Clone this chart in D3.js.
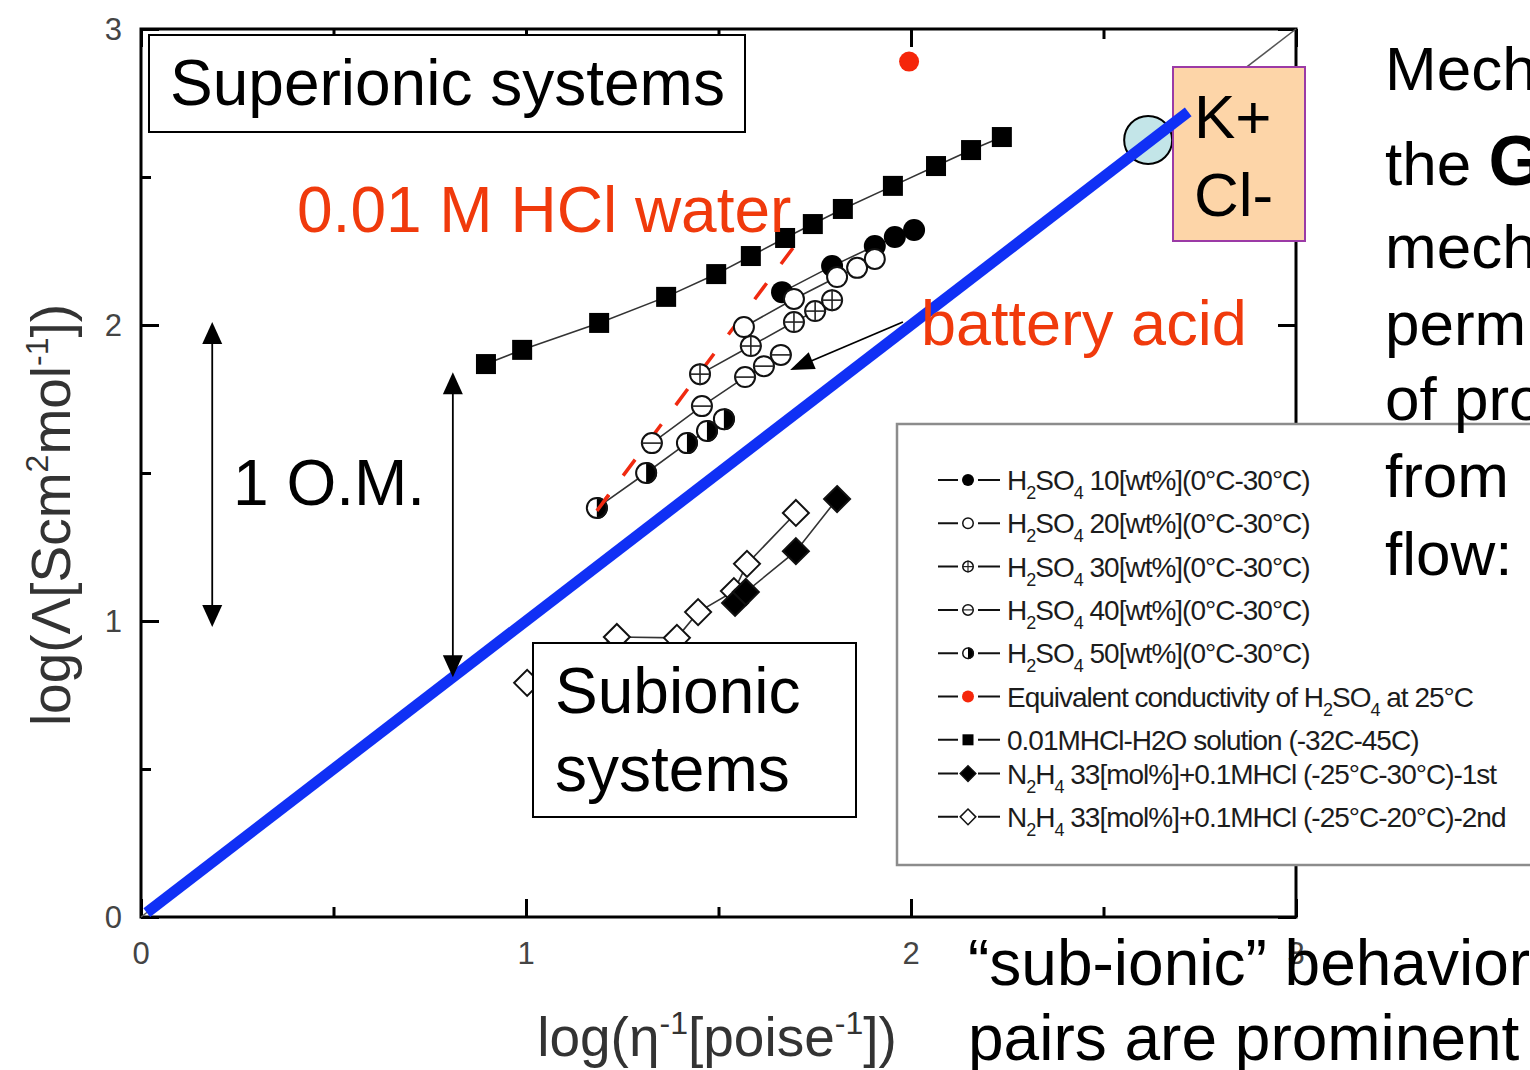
<!DOCTYPE html>
<html>
<head>
<meta charset="utf-8">
<script src="https://cdn.jsdelivr.net/npm/d3@7"></script>
<style>
  html, body { margin: 0; padding: 0; background: #fff; overflow: hidden; }
  svg { display: block; }
  text { font-family: "Liberation Sans", Arial, sans-serif; }
</style>
</head>
<body>
<svg id="chart" width="1530" height="1070"></svg>
<script>
// ---- data: log(1/viscosity) vs log(equivalent conductivity) ----
const h2so4_10 = [[1.665, 2.111], [1.795, 2.199], [1.906, 2.267], [1.958, 2.297], [2.008, 2.321]];
const h2so4_20 = [[1.566, 1.993], [1.696, 2.088], [1.808, 2.162], [1.860, 2.193], [1.906, 2.223]];
const h2so4_30 = [[1.452, 1.834], [1.584, 1.929], [1.696, 2.010], [1.751, 2.047], [1.795, 2.084]];
const h2so4_40 = [[1.327, 1.601], [1.457, 1.726], [1.569, 1.824], [1.618, 1.861], [1.662, 1.899]];
const h2so4_50 = [[1.184, 1.382], [1.312, 1.500], [1.418, 1.601], [1.470, 1.642], [1.514, 1.682]];
const h2so4Equiv = [[1.995, 2.89]];
const hclWater = [[0.896, 1.868], [0.990, 1.916], [1.190, 2.007], [1.364, 2.095], [1.494, 2.172],
                  [1.584, 2.233], [1.673, 2.294], [1.745, 2.341], [1.823, 2.392], [1.953, 2.470],
                  [2.065, 2.537], [2.156, 2.591], [2.236, 2.635]];
const n2h4First = [[1.543, 1.061], [1.571, 1.098], [1.701, 1.236], [1.808, 1.412]];
const n2h4Second = [[1.003, 0.791], [1.236, 0.946], [1.392, 0.943], [1.447, 1.030],
                    [1.540, 1.101], [1.574, 1.193], [1.701, 1.365]];
const kclPoint = [[2.616, 2.625]];
const idealLine = [[0, 0], [3, 3]];
const waldenLine = [[0.015, 0.015], [2.72, 2.72]];
const protonTrend = [[1.184, 1.372], [1.738, 2.338]];

const majorTicks = [0, 1, 2, 3];
const minorTicks = [0.5, 1.5, 2.5];
const tickLabels = ["0", "1", "2", "3"];

// arrows: one order of magnitude markers and pointer to battery acid
const omArrowLeft = [[0.185, 0.98], [0.185, 2.01]];
const omArrowRight = [[0.81, 0.81], [0.81, 1.84]];
const batteryPointer = [[1.979, 2.010], [1.686, 1.848]];

const legendLabels = [
  "H_2SO_4 10[wt%](0°C-30°C)",
  "H_2SO_4 20[wt%](0°C-30°C)",
  "H_2SO_4 30[wt%](0°C-30°C)",
  "H_2SO_4 40[wt%](0°C-30°C)",
  "H_2SO_4 50[wt%](0°C-30°C)",
  "Equivalent conductivity of H_2SO_4 at 25°C",
  "0.01MHCl-H2O solution (-32C-45C)",
  "N_2H_4 33[mol%]+0.1MHCl (-25°C-30°C)-1st",
  "N_2H_4 33[mol%]+0.1MHCl (-25°C-20°C)-2nd"
];
const legendMarkers = ["filled", "open", "plus", "minus", "half", "red", "square", "diamondFilled", "diamondOpen"];

// ---- scales ----
const svg = d3.select("#chart");
const x = d3.scaleLinear().domain([0, 3]).range([141, 1296]);
const y = d3.scaleLinear().domain([0, 3]).range([917, 29]);
const line = d3.line().x(d => x(d[0])).y(d => y(d[1]));

// ---- axes (ticks inward on all four sides) ----
const axes = svg.append("g");
function tickAxis(axisFn, scale, values, size, tr) {
  const a = axisFn(scale).tickValues(values).tickSize(-size).tickFormat("");
  const g = axes.append("g").attr("transform", tr).call(a);
  g.select(".domain").remove();
  g.selectAll(".tick line").attr("stroke", "#000").attr("stroke-width", 3);
}
tickAxis(d3.axisBottom, x, majorTicks, 18, `translate(0,${y(0)})`);
tickAxis(d3.axisBottom, x, minorTicks, 10, `translate(0,${y(0)})`);
tickAxis(d3.axisTop, x, majorTicks, 18, `translate(0,${y(3)})`);
tickAxis(d3.axisTop, x, minorTicks, 10, `translate(0,${y(3)})`);
tickAxis(d3.axisLeft, y, majorTicks, 18, `translate(${x(0)},0)`);
tickAxis(d3.axisLeft, y, minorTicks, 10, `translate(${x(0)},0)`);
tickAxis(d3.axisRight, y, majorTicks, 18, `translate(${x(3)},0)`);
tickAxis(d3.axisRight, y, minorTicks, 10, `translate(${x(3)},0)`);

axes.append("rect")
  .attr("x", x(0)).attr("y", y(3))
  .attr("width", x(3) - x(0)).attr("height", y(0) - y(3))
  .attr("fill", "none").attr("stroke", "#000").attr("stroke-width", 3);

// tick labels
axes.selectAll(".xlab").data(majorTicks).join("text")
  .attr("x", d => x(d)).attr("y", y(0) + 47)
  .attr("text-anchor", "middle").attr("font-size", 31).attr("fill", "#444")
  .text((d, i) => tickLabels[i]);
axes.selectAll(".ylab").data(majorTicks).join("text")
  .attr("x", x(0) - 19).attr("y", d => y(d) + 11)
  .attr("text-anchor", "end").attr("font-size", 31).attr("fill", "#444")
  .text((d, i) => tickLabels[i]);

// axis titles
const xt = svg.append("text").attr("x", 717).attr("y", 1056)
  .attr("text-anchor", "middle").attr("font-size", 55).attr("fill", "#333");
xt.append("tspan").text("log(η");
xt.append("tspan").attr("dy", -22).attr("font-size", 32).text("-1");
xt.append("tspan").attr("dy", 22).text("[poise");
xt.append("tspan").attr("dy", -22).attr("font-size", 32).text("-1");
xt.append("tspan").attr("dy", 22).text("])");

const yt = svg.append("text").attr("transform", "translate(70,515) rotate(-90)")
  .attr("text-anchor", "middle").attr("font-size", 55).attr("fill", "#333");
yt.append("tspan").text("log(Λ[Scm");
yt.append("tspan").attr("dy", -22).attr("font-size", 32).text("2");
yt.append("tspan").attr("dy", 22).text("mol");
yt.append("tspan").attr("dy", -22).attr("font-size", 32).text("-1");
yt.append("tspan").attr("dy", 22).text("])");

// ---- reference lines ----
svg.append("path").datum(idealLine).attr("d", line)
  .attr("stroke", "#555").attr("stroke-width", 1.5).attr("fill", "none");

// ---- markers ----
function marker(g, type, cx, cy, r) {
  const sw = r > 8 ? 2 : 1.5;
  if (type === "filled") {
    g.append("circle").attr("cx", cx).attr("cy", cy).attr("r", r).attr("fill", "#000");
  } else if (type === "red") {
    g.append("circle").attr("cx", cx).attr("cy", cy).attr("r", r).attr("fill", "#f5260a");
  } else if (type === "open" || type === "plus" || type === "minus") {
    g.append("circle").attr("cx", cx).attr("cy", cy).attr("r", r - sw / 2)
      .attr("fill", "#fff").attr("stroke", "#111").attr("stroke-width", sw);
    if (type === "plus" || type === "minus") {
      g.append("line").attr("x1", cx - r).attr("x2", cx + r).attr("y1", cy).attr("y2", cy)
        .attr("stroke", "#222").attr("stroke-width", sw * 0.8);
    }
    if (type === "plus") {
      g.append("line").attr("x1", cx).attr("x2", cx).attr("y1", cy - r).attr("y2", cy + r)
        .attr("stroke", "#222").attr("stroke-width", sw * 0.8);
    }
  } else if (type === "half") {
    g.append("circle").attr("cx", cx).attr("cy", cy).attr("r", r - sw / 2).attr("fill", "#fff");
    g.append("path")
      .attr("d", `M${cx},${cy - r}A${r},${r} 0 0 1 ${cx},${cy + r}Z`).attr("fill", "#000");
    g.append("circle").attr("cx", cx).attr("cy", cy).attr("r", r - sw / 2)
      .attr("fill", "none").attr("stroke", "#111").attr("stroke-width", sw);
  } else if (type === "square") {
    g.append("rect").attr("x", cx - r).attr("y", cy - r).attr("width", 2 * r).attr("height", 2 * r)
      .attr("fill", "#000");
  } else if (type === "diamondFilled" || type === "diamondOpen") {
    const d = r * 1.3;
    g.append("path").attr("d", `M${cx},${cy - d}L${cx + d},${cy}L${cx},${cy + d}L${cx - d},${cy}Z`)
      .attr("fill", type === "diamondFilled" ? "#000" : "#fff")
      .attr("stroke", "#111").attr("stroke-width", sw);
  }
}

const seriesList = [
  { data: hclWater, type: "square", r: 10 },
  { data: h2so4_50, type: "half", r: 11 },
  { data: h2so4_40, type: "minus", r: 11 },
  { data: h2so4_30, type: "plus", r: 11 },
  { data: h2so4_10, type: "filled", r: 11 },
  { data: h2so4_20, type: "open", r: 11 },
  { data: n2h4Second, type: "diamondOpen", r: 10 },
  { data: n2h4First, type: "diamondFilled", r: 10 },
  { data: h2so4Equiv, type: "red", r: 10 }
];

const dataLayer = svg.append("g");
seriesList.forEach(s => {
  if (s.data.length > 1) {
    dataLayer.append("path").datum(s.data).attr("d", line)
      .attr("fill", "none").attr("stroke", "#333").attr("stroke-width", 1.6);
  }
});
// proton-hopping trend line
dataLayer.append("path").datum(protonTrend).attr("d", line)
  .attr("fill", "none").attr("stroke", "#f02a10").attr("stroke-width", 3.5)
  .attr("stroke-dasharray", "20,24");
seriesList.forEach(s => {
  s.data.forEach(p => marker(dataLayer, s.type, x(p[0]), y(p[1]), s.r));
});
// first dash of the trend line sits on top of the first 50 wt% point
dataLayer.append("path").datum(protonTrend.slice(0, 1).concat([[1.215, 1.426]])).attr("d", line)
  .attr("fill", "none").attr("stroke", "#f02a10").attr("stroke-width", 3.5);

// KCl reference point
svg.selectAll(".kcl").data(kclPoint).join("circle")
  .attr("cx", d => x(d[0])).attr("cy", d => y(d[1])).attr("r", 24)
  .attr("fill", "#c3e5e8").attr("stroke", "#000").attr("stroke-width", 2);

// ---- K+ Cl- box ----
svg.append("rect").attr("x", 1173).attr("y", 67).attr("width", 132).attr("height", 174)
  .attr("fill", "#fdd5a8").attr("stroke", "#9b3aa6").attr("stroke-width", 2);
svg.append("text").attr("x", 1194).attr("y", 138).attr("font-size", 62).text("K+");
svg.append("text").attr("x", 1194).attr("y", 216).attr("font-size", 62).text("Cl-");

// ---- Walden line ----
svg.append("path").datum(waldenLine).attr("d", line)
  .attr("stroke", "#1030f5").attr("stroke-width", 11).attr("fill", "none");

// ---- annotations ----
function arrowHead(g, x1, y1, x2, y2, len, wid) {
  const a = Math.atan2(y2 - y1, x2 - x1);
  const bx = x2 - len * Math.cos(a), by = y2 - len * Math.sin(a);
  const px = -Math.sin(a) * wid / 2, py = Math.cos(a) * wid / 2;
  g.append("path").attr("d", `M${x2},${y2}L${bx + px},${by + py}L${bx - px},${by - py}Z`).attr("fill", "#000");
}
const ann = svg.append("g");
[omArrowLeft, omArrowRight].forEach(seg => {
  const x1 = x(seg[0][0]), y1 = y(seg[0][1]), x2 = x(seg[1][0]), y2 = y(seg[1][1]);
  ann.append("line").attr("x1", x1).attr("y1", y1 - 10).attr("x2", x2).attr("y2", y2 + 10)
    .attr("stroke", "#000").attr("stroke-width", 1.8);
  arrowHead(ann, x1, y1 - 20, x2, y2, 22, 20);
  arrowHead(ann, x2, y2 + 20, x1, y1, 22, 20);
});
{
  const x1 = x(batteryPointer[0][0]), y1 = y(batteryPointer[0][1]);
  const x2 = x(batteryPointer[1][0]), y2 = y(batteryPointer[1][1]);
  ann.append("line").attr("x1", x1).attr("y1", y1).attr("x2", x2 + 14).attr("y2", y2 - 6)
    .attr("stroke", "#000").attr("stroke-width", 1.8);
  arrowHead(ann, x1, y1, x2, y2, 24, 18);
}

ann.append("text").attr("x", 233).attr("y", 505).attr("font-size", 64).text("1 O.M.");
ann.append("text").attr("x", 297).attr("y", 232).attr("font-size", 64).attr("fill", "#f03a0c")
  .text("0.01 M HCl water");
ann.append("text").attr("x", 921).attr("y", 345).attr("font-size", 63).attr("fill", "#f03a0c")
  .text("battery acid");

// boxed region labels
ann.append("rect").attr("x", 149).attr("y", 35).attr("width", 596).attr("height", 97)
  .attr("fill", "#fff").attr("stroke", "#000").attr("stroke-width", 2);
ann.append("text").attr("x", 170).attr("y", 105).attr("font-size", 64).text("Superionic systems");
ann.append("rect").attr("x", 533).attr("y", 643).attr("width", 323).attr("height", 174)
  .attr("fill", "#fff").attr("stroke", "#000").attr("stroke-width", 2);
ann.append("text").attr("x", 555).attr("y", 713).attr("font-size", 64).text("Subionic");
ann.append("text").attr("x", 555).attr("y", 791).attr("font-size", 64).text("systems");

// ---- legend ----
const lg = svg.append("g");
lg.append("rect").attr("x", 897).attr("y", 424).attr("width", 700).attr("height", 441)
  .attr("fill", "#fff").attr("stroke", "#8c8c8c").attr("stroke-width", 2.5);
const rowGaps = [0, 1, 1, 1, 1, 1, 1, 0.78, 1];
let rowY = 480;
legendLabels.forEach((lab, i) => {
  rowY += rowGaps[i] * 43.3;
  const cy = rowY;
  lg.append("line").attr("x1", 938).attr("x2", 1000).attr("y1", cy).attr("y2", cy)
    .attr("stroke", "#111").attr("stroke-width", 2);
  lg.append("rect").attr("x", 958).attr("y", cy - 8).attr("width", 20).attr("height", 16).attr("fill", "#fff");
  marker(lg, legendMarkers[i], 968, cy, legendMarkers[i] === "square" ? 5.5 : 6);
  const t = lg.append("text").attr("x", 1007).attr("y", cy + 10)
    .attr("font-size", 28).attr("letter-spacing", -1).attr("fill", "#1c1c1c");
  // "_d" marks a subscript digit
  let shift = 0;
  lab.split(/(_\d)/).filter(s => s.length).forEach(part => {
    if (part[0] === "_") {
      t.append("tspan").attr("dy", 9 - shift).attr("font-size", 18).text(part.slice(1));
      shift = 9;
    } else {
      t.append("tspan").attr("dy", -shift).text(part);
      shift = 0;
    }
  });
});

// ---- side notes ----
const notes = svg.append("g").attr("font-size", 62);
const sideLines = ["Mechanism of", "the ", "mechanism", "permits decoupling", "of proton motion", "from", "flow:"];
const sideY = [90, 185, 268, 345, 420, 497, 575];
sideLines.forEach((s, i) => {
  const t = notes.append("text").attr("x", 1385).attr("y", sideY[i]);
  t.append("tspan").text(s);
  if (i === 1) t.append("tspan").attr("font-weight", "bold").attr("font-size", 70).text("Grotthuss");
});
notes.append("text").attr("x", 968).attr("y", 985).attr("font-size", 64).text("“sub-ionic” behavior where ion");
notes.append("text").attr("x", 968).attr("y", 1060).attr("font-size", 64).text("pairs are prominent");
</script>
</body>
</html>
